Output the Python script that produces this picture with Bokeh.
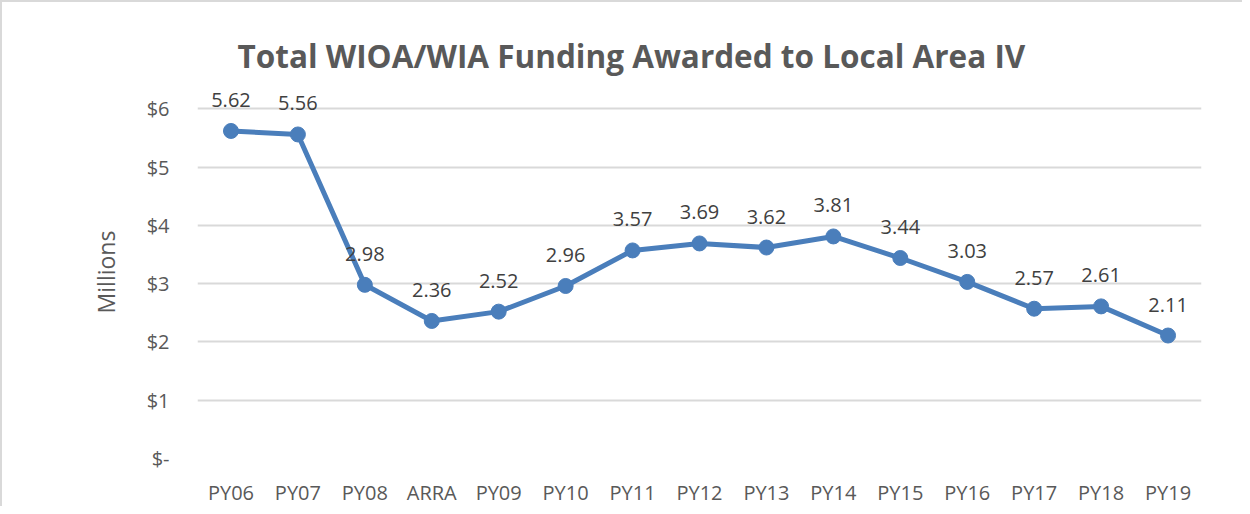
from bokeh.plotting import figure
from bokeh.models import ColumnDataSource, Range1d, FactorRange
from bokeh.embed import file_html
from bokeh.resources import INLINE
from bokeh.core.properties import value

categories = ["PY06", "PY07", "PY08", "ARRA", "PY09", "PY10", "PY11", "PY12",
              "PY13", "PY14", "PY15", "PY16", "PY17", "PY18", "PY19"]
funding = [5.62, 5.56, 2.98, 2.36, 2.52, 2.96, 3.57, 3.69, 3.62, 3.81,
           3.44, 3.03, 2.57, 2.61, 2.11]
y_ticks = [0, 1, 2, 3, 4, 5, 6]
y_tick_labels = ["$-", "$1", "$2", "$3", "$4", "$5", "$6"]
title_text = "Total WIOA/WIA Funding Awarded to Local Area IV"

FONT = "Open Sans"
LINE = "#4a7ebb"

src = ColumnDataSource(dict(x=categories, y=funding,
                            lab=["%.2f" % v for v in funding]))

p = figure(width=1242, height=506, x_range=FactorRange(*categories),
           y_range=Range1d(0, 6.4), output_backend="svg",
           toolbar_location=None, title=title_text,
           min_border_left=195, min_border_right=43,
           min_border_bottom=48, min_border_top=83)

p.styles = {"border-left": "2px solid #d9d9d9",
            "border-top": "2px solid #d9d9d9",
            "box-sizing": "border-box"}

p.title.align = "left"
p.title.offset = 40
p.title.standoff = 17
p.title.text_font = FONT
p.title.text_font_size = "31.5px"
p.title.text_font_style = "bold"
p.title.text_color = "#595959"

p.outline_line_color = None
p.background_fill_color = "white"
p.border_fill_color = "white"

p.xgrid.grid_line_color = None
p.ygrid.grid_line_color = "#d9d9d9"
p.ygrid.grid_line_width = 2
p.yaxis.ticker = y_ticks
p.yaxis.major_label_overrides = {t: l for t, l in zip(y_ticks, y_tick_labels)}

for ax in (p.xaxis, p.yaxis):
    ax.axis_line_color = None
    ax.major_tick_line_color = None
    ax.minor_tick_line_color = None
    ax.major_label_text_font = FONT
    ax.major_label_text_font_size = "20px"
    ax.major_label_text_color = "#595959"

p.xaxis.major_label_standoff = 14
p.yaxis.major_label_standoff = 22
p.yaxis.axis_label = "Millions"
p.yaxis.axis_label_text_font = FONT
p.yaxis.axis_label_text_font_size = "23px"
p.yaxis.axis_label_text_font_style = "normal"
p.yaxis.axis_label_text_color = "#595959"
p.yaxis.axis_label_standoff = 22

p.line("x", "y", source=src, line_color=LINE, line_width=5)
p.scatter("x", "y", source=src, size=15, fill_color=LINE, line_color=LINE)
p.text("x", "y", text="lab", source=src, text_font=value(FONT),
       text_font_size="20px", text_color="#404040", text_align="center",
       text_baseline="middle", y_offset=-31)

open("out.html", "w").write(file_html(p, INLINE))
